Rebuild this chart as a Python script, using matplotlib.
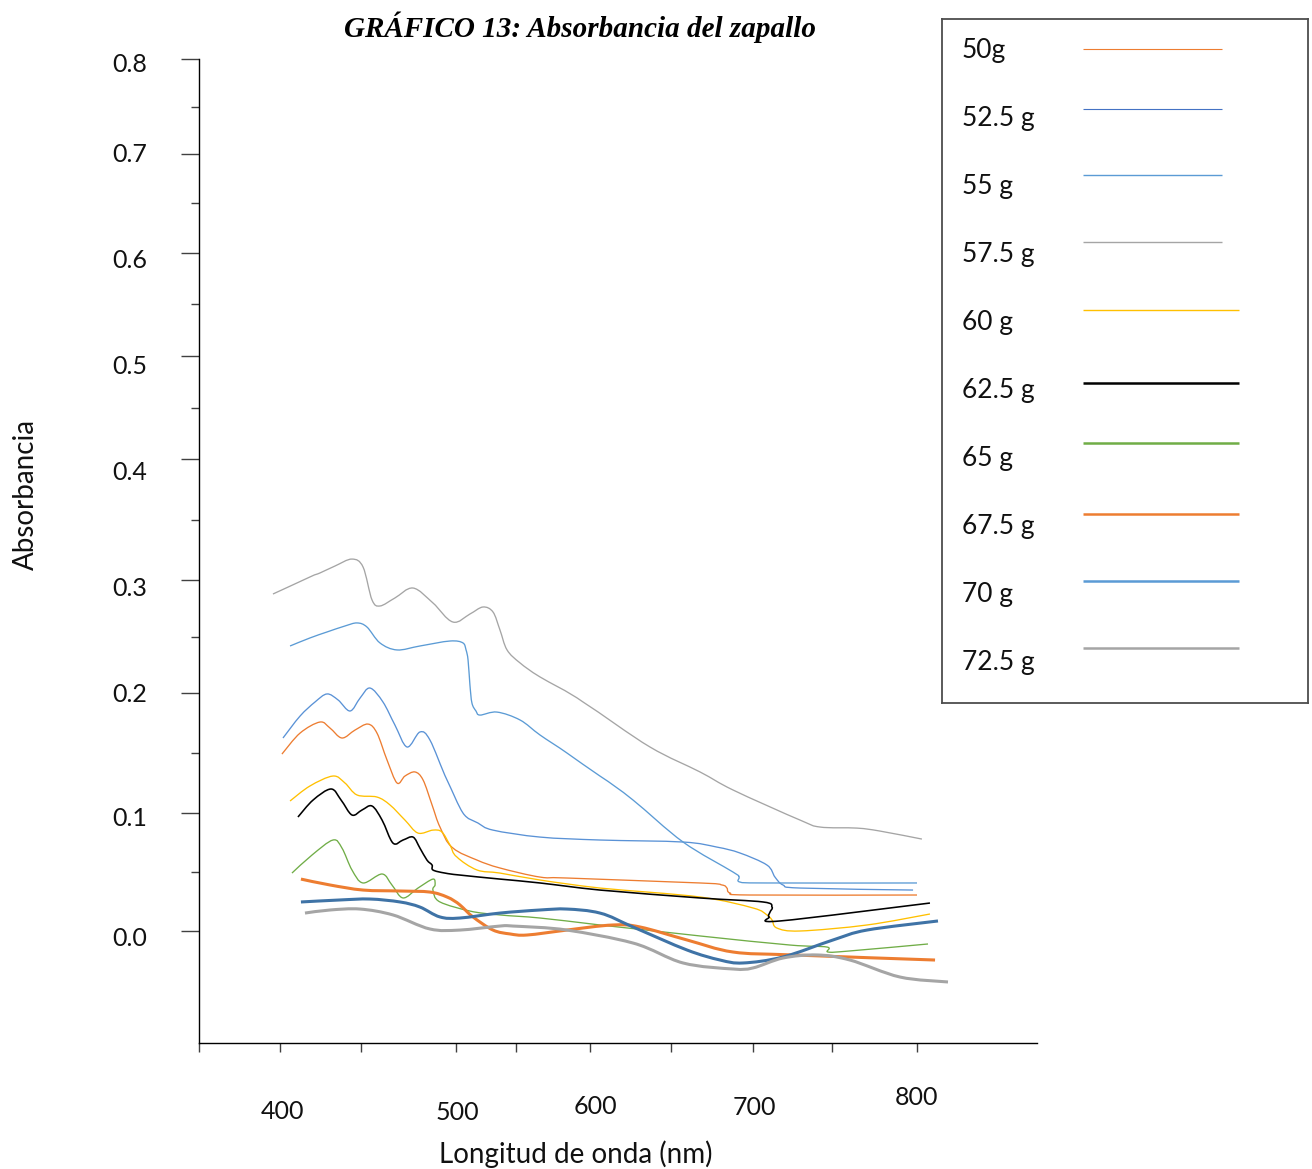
import numpy as np
import matplotlib
matplotlib.use("Agg")
import matplotlib.pyplot as plt
from matplotlib.transforms import ScaledTranslation
from matplotlib.ticker import FixedLocator, NullLocator
from matplotlib.path import Path
from matplotlib.patches import PathPatch

plt.rcParams['font.family'] = ['Lato', 'DejaVu Sans']

# ---------------- data ----------------
series_labels = ['50g', '52.5 g', '55 g', '57.5 g', '60 g',
                 '62.5 g', '65 g', '67.5 g', '70 g', '72.5 g']

wl_50 = [401.1, 411.4, 422.7, 428.4, 435.2, 442.6, 450.0, 455.1, 460.8, 466.5, 471.0, 476.7, 481.3,
         486.4, 490.9, 498.3, 515.7, 532.8, 562.7, 582.8, 667.5, 681.0, 684.0, 685.9, 698.2, 800.0]
ab_50 = [0.1491, 0.1666, 0.1758, 0.1708, 0.1625, 0.1691, 0.1741, 0.1666, 0.1442, 0.1250, 0.1308, 0.1342, 0.1275,
         0.1067, 0.0881, 0.0703, 0.0601, 0.0534, 0.0457, 0.0449, 0.0407, 0.0390, 0.0364, 0.0322, 0.0305, 0.0305]

wl_525 = [401.7, 411.4, 419.9, 426.7, 433.0, 439.8, 445.5, 451.1, 458.5, 465.3, 472.2, 479.5, 485.2, 494.9,
          505.2, 516.4, 527.6, 562.7, 606.1, 657.1, 677.9, 692.0, 708.5, 713.4, 718.3, 728.7, 797.6]
ab_525 = [0.1625, 0.1808, 0.1925, 0.1992, 0.1942, 0.1850, 0.1958, 0.2044, 0.1925, 0.1733, 0.1550, 0.1675, 0.1608, 0.1275,
          0.1000, 0.0915, 0.0855, 0.0796, 0.0771, 0.0754, 0.0711, 0.0661, 0.0559, 0.0457, 0.0390, 0.0364, 0.0347]

wl_55 = [405.7, 417.0, 426.7, 436.9, 443.8, 449.4, 456.8, 466.5, 479.5, 496.6, 505.2, 507.5, 509.0, 510.4, 511.9,
         514.9, 517.9, 530.6, 547.8, 562.7, 582.8, 606.1, 626.4, 657.1, 687.7, 691.4, 692.0, 708.5, 800.0]
ab_55 = [0.2416, 0.2487, 0.2540, 0.2593, 0.2620, 0.2584, 0.2443, 0.2381, 0.2416, 0.2460, 0.2443, 0.2381, 0.2292, 0.2071, 0.1916,
         0.1850, 0.1816, 0.1841, 0.1775, 0.1650, 0.1500, 0.1308, 0.1108, 0.0754, 0.0500, 0.0457, 0.0415, 0.0407, 0.0407]

wl_575 = [396.0, 417.0, 422.7, 431.3, 440.9, 447.2, 452.3, 456.8, 465.3, 475.6, 486.9, 498.3, 510.4, 520.1,
          527.6, 532.8, 538.1, 547.8, 562.7, 594.8, 636.8, 667.5, 687.7, 728.7, 740.9, 763.4, 777.4, 803.0]
ab_575 = [0.2876, 0.3025, 0.3058, 0.3116, 0.3173, 0.3107, 0.2823, 0.2770, 0.2841, 0.2929, 0.2797, 0.2628, 0.2699, 0.2761,
          0.2717, 0.2558, 0.2381, 0.2266, 0.2142, 0.1925, 0.1550, 0.1342, 0.1192, 0.0940, 0.0881, 0.0872, 0.0847, 0.0779]

wl_60 = [405.7, 417.0, 430.1, 436.9, 443.8, 455.1, 462.5, 471.0, 478.4, 486.9, 492.0, 496.6, 500.7,
         515.7, 532.8, 562.7, 606.1, 667.5, 700.0, 708.5, 711.6, 714.6, 728.7, 769.5, 807.9]
ab_60 = [0.1100, 0.1225, 0.1308, 0.1250, 0.1150, 0.1133, 0.1067, 0.0940, 0.0830, 0.0855, 0.0839, 0.0728, 0.0627,
         0.0517, 0.0491, 0.0432, 0.0364, 0.0288, 0.0195, 0.0136, 0.0093, 0.0025, 0.0000, 0.0051, 0.0144]

wl_625 = [410.2, 418.8, 429.0, 434.7, 440.9, 446.6, 452.3, 458.0, 464.2, 469.9, 475.6, 479.5, 483.5, 486.4,
          486.9, 493.7, 503.0, 532.8, 562.7, 606.1, 667.5, 706.1, 711.6, 710.4, 709.8, 716.5, 807.9]
ab_625 = [0.0966, 0.1108, 0.1200, 0.1108, 0.0983, 0.1025, 0.1058, 0.0940, 0.0745, 0.0771, 0.0796, 0.0703, 0.0601, 0.0559,
          0.0517, 0.0491, 0.0474, 0.0440, 0.0407, 0.0347, 0.0280, 0.0246, 0.0203, 0.0161, 0.0119, 0.0085, 0.0237]

wl_65 = [406.8, 418.2, 430.1, 435.2, 440.9, 447.2, 458.0, 463.6, 469.9, 478.4, 486.9, 488.1, 486.9, 490.9,
         510.4, 532.8, 562.7, 606.1, 667.5, 722.6, 745.1, 745.7, 759.1, 806.7]
ab_65 = [0.0491, 0.0644, 0.0771, 0.0703, 0.0517, 0.0407, 0.0483, 0.0390, 0.0280, 0.0364, 0.0440, 0.0390, 0.0347, 0.0246,
         0.0169, 0.0136, 0.0110, 0.0051, -0.0042, -0.0119, -0.0136, -0.0178, -0.0169, -0.0110]

wl_675 = [411.9, 428.4, 447.2, 468.2, 485.2, 494.9, 503.0, 512.7, 527.6, 540.3, 553.0, 582.8, 614.1, 630.7,
          659.5, 687.7, 724.5, 811.0]
ab_675 = [0.0440, 0.0390, 0.0347, 0.0339, 0.0330, 0.0288, 0.0220, 0.0119, 0.0008, -0.0025, -0.0034, 0.0008, 0.0051, 0.0034,
          -0.0076, -0.0178, -0.0203, -0.0246]

wl_70 = [411.9, 434.1, 451.1, 468.2, 479.5, 490.9, 503.0, 532.8, 562.7, 582.8, 606.1, 626.4, 659.5, 679.8,
         693.9, 718.3, 748.8, 769.5, 812.8]
ab_70 = [0.0246, 0.0263, 0.0271, 0.0246, 0.0203, 0.0119, 0.0110, 0.0152, 0.0178, 0.0186, 0.0152, 0.0034, -0.0161, -0.0246,
         -0.0271, -0.0220, -0.0076, 0.0008, 0.0085]

wl_725 = [414.2, 428.4, 445.5, 464.2, 485.2, 503.0, 532.8, 542.5, 582.8, 626.4, 657.1, 687.7, 700.0, 718.3,
          739.0, 759.1, 789.6, 818.9]
ab_725 = [0.0152, 0.0178, 0.0186, 0.0136, 0.0017, 0.0008, 0.0042, 0.0042, 0.0008, -0.0102, -0.0271, -0.0322, -0.0313, -0.0229,
          -0.0203, -0.0246, -0.0390, -0.0432]

series_x = [wl_50, wl_525, wl_55, wl_575, wl_60, wl_625, wl_65, wl_675, wl_70, wl_725]
series_y = [ab_50, ab_525, ab_55, ab_575, ab_60, ab_625, ab_65, ab_675, ab_70, ab_725]

x_tick_values = [400, 500, 600, 700, 800]
x_extra_ticks = [446, 545, 650, 748]
y_tick_values = [0.0, 0.1, 0.2, 0.3, 0.4, 0.5, 0.6, 0.7, 0.8]

# ---------------- styles ----------------
plot_colors = ['#ED7D31', '#5A92D6', '#5B9BD5', '#A5A5A5', '#FFC000',
               '#000000', '#70AD47', '#ED7D31', '#3F73A6', '#A5A5A5']
legend_colors = ['#ED7D31', '#4472C4', '#5B9BD5', '#A5A5A5', '#FFC000',
                 '#000000', '#70AD47', '#ED7D31', '#5B9BD5', '#A5A5A5']
plot_widths = [0.95, 0.95, 0.95, 0.95, 0.95, 1.15, 0.95, 2.2, 2.2, 2.2]
legend_widths = [0.8, 0.8, 1.0, 1.0, 1.0, 1.8, 1.8, 1.8, 1.8, 1.8]

W, H = 1312, 1169
fig = plt.figure(figsize=(W / 100, H / 100), dpi=100)
fig.patch.set_facecolor('white')

# axes box in pixels (left, top, right, bottom)
L, T, R, B = 199, 59, 1037, 1043
ax = fig.add_axes([L / W, 1 - B / H, (R - L) / W, (B - T) / H])


def piecewise(kx, ky):
    kx = np.asarray(kx, float)
    ky = np.asarray(ky, float)
    s0 = (ky[1] - ky[0]) / (kx[1] - kx[0])
    s1 = (ky[-1] - ky[-2]) / (kx[-1] - kx[-2])

    def f(v):
        a = np.asarray(v, float)
        shp = a.shape
        a = a.ravel()
        out = np.interp(a, kx, ky)
        out = np.where(a < kx[0], ky[0] + (a - kx[0]) * s0, out)
        out = np.where(a > kx[-1], ky[-1] + (a - kx[-1]) * s1, out)
        return out.reshape(shp)
    return f


# irregular axis spacing of the original chart
x_pix = [280, 456, 590, 753, 917]
y_pix = [-931, -813, -693, -580, -459, -356, -253, -154, -59]
fx = piecewise(x_tick_values, x_pix)
ix = piecewise(x_pix, x_tick_values)
fy = piecewise(y_tick_values, y_pix)
iy = piecewise(y_pix, y_tick_values)
ax.set_xscale('function', functions=(fx, ix))
ax.set_yscale('function', functions=(fy, iy))


def smooth_path(xs, ys):
    """Smoothed line through the points (Catmull-Rom style Bezier, like a spreadsheet 'smoothed line')."""
    P = np.column_stack([xs, ys]).astype(float)
    n = len(P)
    verts = [P[0]]
    codes = [Path.MOVETO]
    for i in range(n - 1):
        p0 = P[i - 1] if i > 0 else P[i]
        p1 = P[i]
        p2 = P[i + 1]
        p3 = P[i + 2] if i + 2 < n else P[i + 1]
        verts += [p1 + (p2 - p0) / 6.0, p2 - (p3 - p1) / 6.0, p2]
        codes += [Path.CURVE4] * 3
    return Path(np.array(verts), codes)


for xs, ys, c, lw in zip(series_x, series_y, plot_colors, plot_widths):
    ax.add_patch(PathPatch(smooth_path(xs, ys), fill=False, edgecolor=c, lw=lw,
                           joinstyle='round', capstyle='butt'))

ax.set_xlim(float(ix(np.array([L]))[0]), float(ix(np.array([R]))[0]))
ax.set_ylim(float(iy(np.array([-B]))[0]), 0.8)

for s in ['top', 'right']:
    ax.spines[s].set_visible(False)
for s in ['left', 'bottom']:
    ax.spines[s].set_color('black')
    ax.spines[s].set_linewidth(1.0)

# x ticks
xmin = ax.get_xlim()[0]
all_x = sorted([xmin] + x_tick_values + x_extra_ticks)
ax.set_xticks(all_x)
ax.set_xticklabels([str(v) if v in x_tick_values else '' for v in all_x])
ax.xaxis.set_minor_locator(NullLocator())
ax.tick_params(axis='x', which='major', length=6.5, width=1, color='#404040',
               direction='out', pad=33, labelsize=18, labelcolor='#111111')

# y ticks
ax.set_yticks(y_tick_values)
ax.set_yticklabels([f'{v:.1f}' for v in y_tick_values])
ax.yaxis.set_minor_locator(FixedLocator([v + 0.05 for v in y_tick_values[:-1]]))
ax.tick_params(axis='y', which='major', length=13, width=1, color='#404040',
               direction='out', pad=24, labelsize=18, labelcolor='#111111')
ax.tick_params(axis='y', which='minor', length=5.5, width=1, color='#404040', direction='out')

# individual label offsets (pixels: dx right, dy down)
x_label_offsets = {400: (2, 2), 500: (1, 3), 600: (5, -3), 700: (1, -2), 800: (0, -12)}
for tk, v in zip(ax.xaxis.get_major_ticks(), all_x):
    if v in x_label_offsets:
        dx, dy = x_label_offsets[v]
        tk.label1.set_transform(tk.label1.get_transform() +
                                ScaledTranslation(dx / 100, -dy / 100, fig.dpi_scale_trans))
y_label_offsets = [6, 4, 0, 7, 12, 8, 5, -1, 4]
for tk, dy in zip(ax.yaxis.get_major_ticks(), y_label_offsets):
    tk.label1.set_transform(tk.label1.get_transform() +
                            ScaledTranslation(0, -dy / 100, fig.dpi_scale_trans))

ax.set_xlabel('Longitud de onda (nm)', fontsize=20, color='#111111')
ax.xaxis.set_label_coords((576 - L) / (R - L), -(1140 - B) / (B - T))
ax.set_ylabel('Absorbancia', fontsize=20, color='#111111')
ax.yaxis.set_label_coords((39 - L) / (R - L), (B - 494) / (B - T))

fig.text(580 / W, 1 - 27 / H, 'GRÁFICO 13: Absorbancia del zapallo',
         family=['Liberation Serif', 'DejaVu Serif'], fontweight='bold', fontstyle='italic',
         fontsize=21, ha='center', va='center')

# ---------------- legend box ----------------
lL, lT, lR, lB = 942, 19, 1308, 703
lax = fig.add_axes([lL / W, 1 - lB / H, (lR - lL) / W, (lB - lT) / H])
lax.set_xlim(lL, lR)
lax.set_ylim(lB, lT)
lax.set_xticks([])
lax.set_yticks([])
for s in lax.spines.values():
    s.set_color('#4d4d4d')
    s.set_linewidth(1.3)
line_end = [1222, 1222, 1222, 1222, 1239, 1239, 1239, 1239, 1239, 1239]
line_y = [49, 109, 175, 242, 310, 383, 443, 514, 581, 648]
for i, (lab, c, lw) in enumerate(zip(series_labels, legend_colors, legend_widths)):
    lax.text(962, 58 + i * 68.0, lab, fontsize=19, ha='left', va='baseline', color='#111111')
    lax.plot([1083, line_end[i]], [line_y[i], line_y[i]], color=c, lw=lw, solid_capstyle='butt')

fig.savefig('out.png', dpi=100)
